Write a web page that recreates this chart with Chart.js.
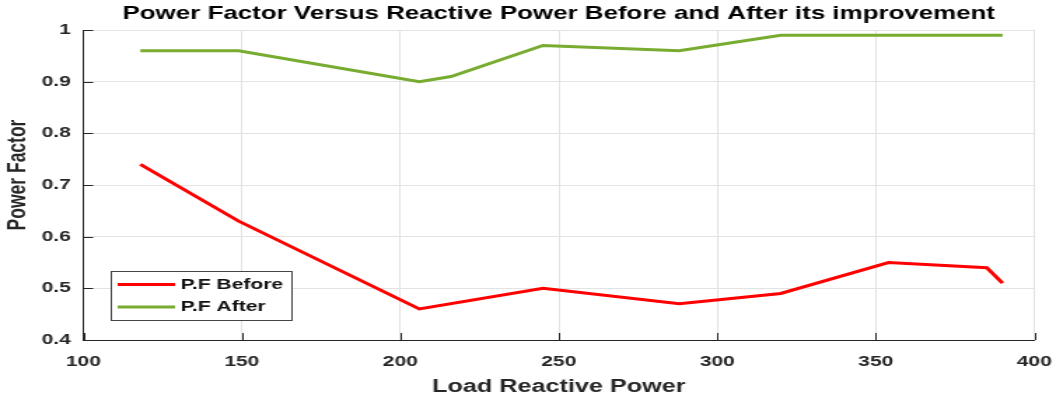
<!DOCTYPE html>
<html>
<head>
<meta charset="utf-8">
<script src="https://cdn.jsdelivr.net/npm/chart.js@4/dist/chart.umd.min.js"></script>
<style>
  body { margin: 0; background: #fff; overflow: hidden; }
  /* the original figure is a stretched export, so draw narrow and widen it */
  #pfChart { display: block; transform-origin: 0 0; transform: scaleX(1.4005); }
</style>
</head>
<body>
<canvas id="pfChart" width="754" height="400"></canvas>
<script>
// data
const beforeX = [118, 149, 206, 245, 288, 320, 354, 385, 390];
const beforeY = [0.74, 0.63, 0.46, 0.50, 0.47, 0.49, 0.55, 0.54, 0.51];
const afterX = [118, 149, 206, 216, 245, 288, 320, 354, 385, 390];
const afterY = [0.96, 0.96, 0.90, 0.91, 0.97, 0.96, 0.99, 0.99, 0.99, 0.99];
const xTicks = [100, 150, 200, 250, 300, 350, 400];
const yTickLabels = ["0.4", "0.5", "0.6", "0.7", "0.8", "0.9", "1"];
const seriesNames = ["P.F Before", "P.F After"];
const chartTitle = "Power Factor Versus Reactive Power Before and After its improvement";

const RED = "#ff0000";
const GREEN = "#77ac30";
const AXIS = "#262626";
const FONT = "'Liberation Sans', Arial, sans-serif";

function toPoints(xs, ys) {
    return xs.map((x, i) => ({ x: x, y: ys[i] }));
}

// MATLAB-style inward ticks, titles and legend box inside the axes
const matlabBits = {
    id: "matlabBits",
    afterDraw(chart) {
        const ctx = chart.ctx;
        const xs = chart.scales.x, ys = chart.scales.y;
        const a = chart.chartArea;
        ctx.save();
        ctx.strokeStyle = AXIS;
        ctx.lineWidth = 1;
        ctx.beginPath();
        xTicks.forEach(v => {
            const px = Math.round(xs.getPixelForValue(v)) + 0.5;
            ctx.moveTo(px, a.bottom);
            ctx.lineTo(px, a.bottom - 7);
        });
        yTickLabels.forEach(t => {
            const py = Math.round(ys.getPixelForValue(parseFloat(t))) + 0.5;
            ctx.moveTo(a.left, py);
            ctx.lineTo(a.left + 7, py);
        });
        ctx.stroke();

        // chart title, centred over the axes
        ctx.fillStyle = "#000";
        ctx.font = "bold 18.5px " + FONT;
        ctx.textAlign = "center";
        ctx.textBaseline = "middle";
        ctx.fillText(chartTitle, (a.left + a.right) / 2, 14);

        // y axis title
        ctx.save();
        ctx.translate(13.5, 175);
        ctx.rotate(-Math.PI / 2);
        ctx.fillStyle = AXIS;
        ctx.font = "bold 17.5px " + FONT;
        ctx.fillText("Power Factor", 0, 0);
        ctx.restore();

        // legend
        const bx = a.left + 19.5, by = 271, bw = 129, bh = 49;
        ctx.fillStyle = "#fff";
        ctx.fillRect(bx, by, bw, bh);
        ctx.strokeStyle = "#444";
        ctx.lineWidth = 1;
        ctx.strokeRect(bx + 0.5, by + 0.5, bw, bh);
        const colors = [RED, GREEN];
        ctx.font = "bold 15px " + FONT;
        ctx.textAlign = "left";
        ctx.textBaseline = "middle";
        seriesNames.forEach((name, i) => {
            const ly = by + 13.5 + i * 22.5;
            ctx.strokeStyle = colors[i];
            ctx.lineWidth = 3;
            ctx.beginPath();
            ctx.moveTo(bx + 5, ly);
            ctx.lineTo(bx + 46, ly);
            ctx.stroke();
            ctx.fillStyle = "#111";
            ctx.fillText(name, bx + 50, ly);
        });
        ctx.restore();
    }
};

new Chart(document.getElementById("pfChart"), {
    type: "scatter",
    data: {
        datasets: [{
            label: seriesNames[0],
            data: toPoints(beforeX, beforeY),
            showLine: true,
            borderColor: RED,
            borderWidth: 3,
            pointRadius: 0,
            tension: 0
        }, {
            label: seriesNames[1],
            data: toPoints(afterX, afterY),
            showLine: true,
            borderColor: GREEN,
            borderWidth: 3,
            pointRadius: 0,
            tension: 0
        }]
    },
    options: {
        responsive: false,
        animation: false,
        devicePixelRatio: 1,
        layout: { padding: { left: 0, right: 15.5, top: 30, bottom: 0 } },
        plugins: {
            legend: { display: false },
            tooltip: { enabled: false },
            title: { display: false }
        },
        scales: {
            x: {
                type: "linear",
                min: 100,
                max: 400,
                afterBuildTicks(scale) {
                    scale.ticks = xTicks.map(v => ({ value: v }));
                },
                afterFit(scale) {
                    scale.height = 60;
                    // keep the plot width fixed, the end labels have room anyway
                    scale.paddingLeft = 0;
                    scale.paddingRight = 0;
                },
                ticks: {
                    color: AXIS,
                    font: { family: FONT, size: 15, weight: "bold" },
                    padding: 13,
                    maxRotation: 0
                },
                grid: { color: "#e3e3e3", drawTicks: false },
                border: { display: true, color: AXIS, width: 1 },
                title: {
                    display: true,
                    text: "Load Reactive Power",
                    color: AXIS,
                    font: { family: FONT, size: 18, weight: "bold", lineHeight: 1.2 },
                    padding: { top: 0, bottom: 1.7 }
                }
            },
            y: {
                min: 0.4,
                max: 1,
                afterBuildTicks(scale) {
                    scale.ticks = yTickLabels.map(t => ({ value: parseFloat(t) }));
                },
                afterFit(scale) {
                    scale.width = 59.5;
                    scale.paddingTop = 0;
                    scale.paddingBottom = 0;
                },
                ticks: {
                    color: AXIS,
                    font: { family: FONT, size: 15, weight: "bold" },
                    padding: 9,
                    callback: (v, i) => yTickLabels[i]
                },
                grid: { color: "#e3e3e3", drawTicks: false },
                border: { display: true, color: AXIS, width: 1 }
            }
        }
    },
    plugins: [matlabBits]
});
</script>
</body>
</html>
